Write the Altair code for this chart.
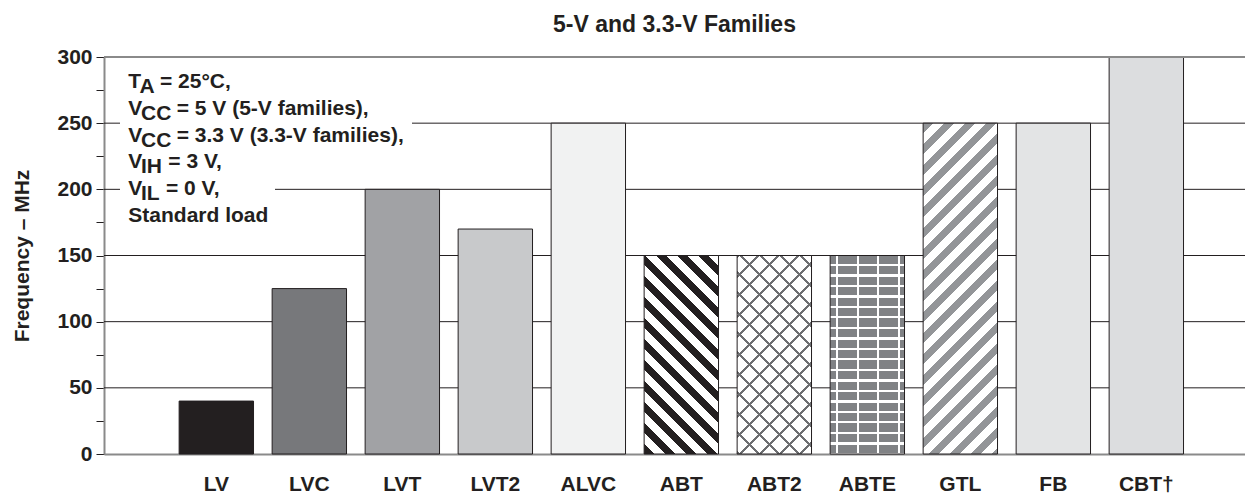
import altair as alt
import pandas as pd

# ---------------- data ----------------
families = ["LV", "LVC", "LVT", "LVT2", "ALVC", "ABT", "ABT2", "ABTE", "GTL", "FB", "CBT†"]
freq_mhz = [40, 125, 200, 170, 250, 150, 150, 150, 250, 250, 300]
y_tick_values = [0, 25, 50, 75, 100, 125, 150, 175, 200, 225, 250, 275, 300]
grid_values = [50, 100, 150, 200, 250]
top_value = [300]

solid_families = ["LV", "LVC", "LVT", "LVT2", "ALVC", "FB", "CBT†"]
solid_colors = ["#231f20", "#77787b", "#a1a2a5", "#c8c9cb", "#f1f2f2", "#e3e4e5", "#dcdddf"]

title_text = "5-V and 3.3-V Families"
y_title = "Frequency – MHz"

# ---------------- layout / style ----------------
W, H = 1141, 397
Y_MAX = 300
STEP = 93.0
PAD_INNER = 0.2
PAD_OUTER = ((W / STEP) - (len(families) - PAD_INNER)) / 2
ALIGN = 0.55
BAND_W = STEP * (1 - PAD_INNER)
FONT = "Liberation Sans"
INK = "#231f20"
FRAME = "#8a8a8a"

df = pd.DataFrame({"family": families, "freq": freq_mhz})
grid_df = pd.DataFrame({"freq": grid_values})
top_df = pd.DataFrame({"freq": top_value})

x_enc = alt.X(
    "family:N",
    sort=families,
    scale=alt.Scale(domain=families, paddingInner=PAD_INNER, paddingOuter=PAD_OUTER, align=ALIGN),
    axis=alt.Axis(title=None, ticks=False, labelPadding=19, labelAngle=0,
                  domainColor=FRAME, domainWidth=2, labelFont=FONT,
                  labelFontSize=21, labelFontWeight="bold", labelColor=INK),
)
y_enc = alt.Y(
    "freq:Q",
    scale=alt.Scale(domain=[0, Y_MAX], nice=False, zero=True),
    axis=alt.Axis(values=y_tick_values,
                  labelExpr="datum.value % 50 == 0 ? datum.label : ''",
                  tickSize=8, tickColor=INK, tickWidth=1,
                  domainColor=FRAME, domainWidth=2, grid=False,
                  labelPadding=4, labelFont=FONT, labelFontSize=21,
                  labelFontWeight="bold", labelColor=INK,
                  title=y_title, titleFont=FONT, titleFontSize=21,
                  titleFontWeight="bold", titleColor=INK,
                  titleX=-76, titleY=H / 2, titleBaseline="alphabetic",
                  titleAlign="center", titleAngle=270),
)


def stripe_gradient(value, direction, period, frac, c_on, c_off, phase=0.0):
    """Diagonal (45deg), horizontal or vertical stripe fill for one bar, via hard-stop gradient."""
    w = BAND_W
    h = value * H / Y_MAX
    if direction == "horizontal":
        x1, y1, x2, y2 = 0, 0, 0, 1
        span = h
    elif direction == "vertical":
        x1, y1, x2, y2 = 0, 0, 1, 0
        span = w
    else:
        r = h / w
        k = (1 + r) / (1 + r * r)
        if direction == "down":  # "\" stripes
            x1, y1, x2, y2 = 0, 1, k, 1 - k * r
        else:  # "/" stripes
            x1, y1, x2, y2 = 0, 0, k, k * r
        span = w + h
    p = period / span
    stops = []
    i = -1
    while True:
        a = (i + phase) * p
        if a >= 1:
            break
        b = a + frac * p
        c = a + p
        for o, col in [(a, c_on), (b, c_on), (b, c_off), (c, c_off)]:
            o = min(max(o, 0.0), 1.0)
            stops.append({"offset": o, "color": col})
        i += 1
    return {"gradient": "linear", "x1": x1, "y1": y1, "x2": x2, "y2": y2, "stops": stops}


def value_of(name):
    return freq_mhz[families.index(name)]


base = alt.Chart(df).encode(x=x_enc, y=y_enc)

grid = alt.Chart(grid_df).mark_rule(color=INK, strokeWidth=1).encode(y=y_enc)

one = alt.Data(values=[{}])
mask1 = alt.Chart(one).mark_rect(color="white").encode(
    x=alt.value(16), x2=alt.value(308), y=alt.value(61), y2=alt.value(72))
mask2 = alt.Chart(one).mark_rect(color="white").encode(
    x=alt.value(16), x2=alt.value(171), y=alt.value(127), y2=alt.value(138))

solid = base.transform_filter(
    alt.FieldOneOfPredicate(field="family", oneOf=solid_families)
).mark_bar().encode(
    fill=alt.Fill("family:N", scale=alt.Scale(domain=solid_families, range=solid_colors), legend=None)
)


def pattern_layer(name, fill):
    return base.transform_filter(alt.datum.family == name).mark_bar(fill=fill)


abt = pattern_layer("ABT", stripe_gradient(value_of("ABT"), "down", 21, 0.5, INK, "#ffffff"))
abt2_base = pattern_layer("ABT2", "#ffffff")
abt2_a = pattern_layer("ABT2", stripe_gradient(value_of("ABT2"), "down", 20, 0.15, "#6d6e71", "transparent"))
abt2_b = pattern_layer("ABT2", stripe_gradient(value_of("ABT2"), "up", 20, 0.15, "#6d6e71", "transparent"))
abte = pattern_layer("ABTE", stripe_gradient(value_of("ABTE"), "horizontal", 10.5, 0.8, "#808285", "#ffffff"))
abte_j = pattern_layer("ABTE", stripe_gradient(value_of("ABTE"), "vertical", 20.5, 0.1, "#ffffff", "transparent", phase=0.3))
gtl = pattern_layer("GTL", stripe_gradient(value_of("GTL"), "up", 21, 0.5, "#939598", "#ffffff"))

outline = base.mark_bar(fillOpacity=0, stroke=INK, strokeWidth=1)

top_border = alt.Chart(top_df).mark_rule(color=FRAME, strokeWidth=2).encode(y=y_enc)


def txt(s, x, y):
    return alt.Chart(one).mark_text(
        text=s, align="left", baseline="alphabetic", font=FONT, fontSize=21,
        fontWeight="bold", color=INK
    ).encode(x=alt.value(x), y=alt.value(y))


LX = 24.3
SUBX = 37
SUB = 5
lines_y = [31.3, 58.0, 84.7, 111.3, 138.0, 164.7]
notes = [
    txt("T", LX, lines_y[0]), txt("A", 35.5, lines_y[0] + SUB), txt("= 25°C,", 56.0, lines_y[0]),
    txt("V", LX, lines_y[1]), txt("CC", SUBX, lines_y[1] + SUB), txt("= 5 V (5-V families),", 72.7, lines_y[1]),
    txt("V", LX, lines_y[2]), txt("CC", SUBX, lines_y[2] + SUB), txt("= 3.3 V (3.3-V families),", 72.7, lines_y[2]),
    txt("V", LX, lines_y[3]), txt("IH", SUBX, lines_y[3] + SUB), txt("= 3 V,", 64.3, lines_y[3]),
    txt("V", LX, lines_y[4]), txt("IL", SUBX, lines_y[4] + SUB), txt("= 0 V,", 62.0, lines_y[4]),
    txt("Standard load", LX, lines_y[5]),
]

chart = alt.layer(
    grid, mask1, mask2, solid, abt, abt2_base, abt2_a, abt2_b, abte, abte_j, gtl, outline, top_border, *notes
).properties(
    width=W, height=H,
    title=alt.TitleParams(title_text, font=FONT, fontSize=23, fontWeight="bold", color=INK,
                          anchor="middle", frame="group", offset=9),
    autosize=alt.AutoSizeParams(type="none"),
    padding={"left": 96, "top": 49, "right": 0, "bottom": 42},
).configure_view(stroke=None).configure(background="white")

chart.save("out.html", embed_options={"renderer": "svg", "actions": False})
